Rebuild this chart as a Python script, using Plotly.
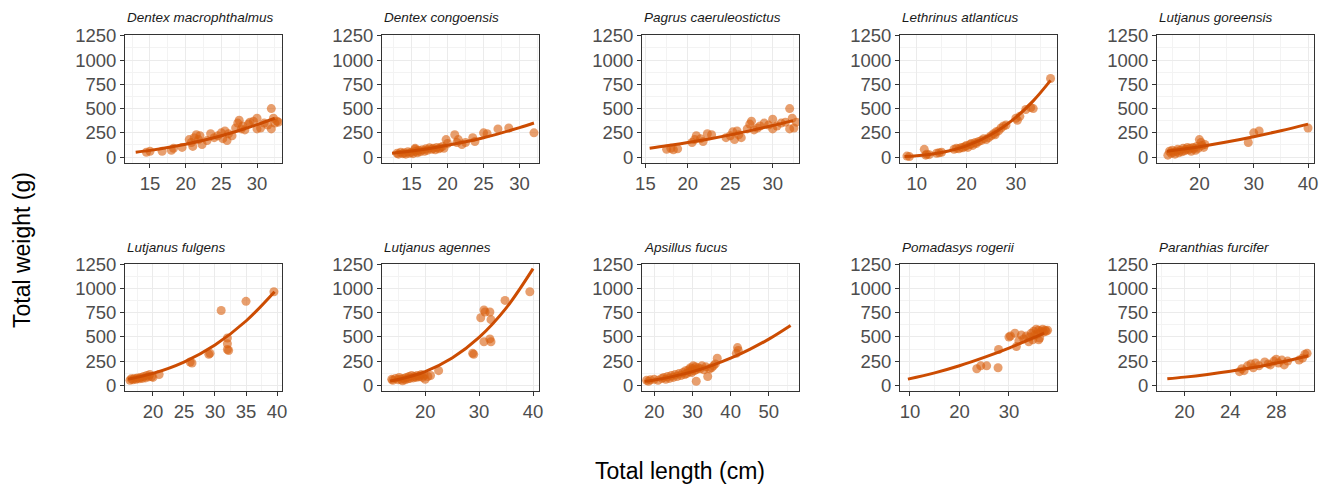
import plotly.graph_objects as go

W, H = 1329, 488

species = ["Dentex macrophthalmus", "Dentex congoensis", "Pagrus caeruleostictus",
           "Lethrinus atlanticus", "Lutjanus goreensis", "Lutjanus fulgens",
           "Lutjanus agennes", "Apsillus fucus", "Pomadasys rogerii", "Paranthias furcifer"]

# ---- Dentex macrophthalmus
dmac_len = [14.5, 15, 16.7, 18, 18.3, 19.5, 20.5, 20.8, 21, 21.2, 21.5, 21.8, 22, 22.3, 23, 23.5, 24, 24.5,
            25, 25.2, 25.5, 25.8, 26, 26.5, 27, 27.3, 27.5, 27.8, 28, 28.3, 28.8, 29, 29.5, 30, 30, 30.5,
            31, 31.5, 32, 32, 32.3, 32.5, 32.8, 33]
dmac_wt = [50, 60, 60, 70, 90, 100, 180, 150, 110, 200, 230, 180, 220, 130, 170, 240, 200, 220,
           250, 190, 270, 170, 240, 220, 300, 350, 380, 290, 320, 280, 340, 360, 370, 400, 290, 300,
           350, 330, 290, 500, 400, 350, 370, 360]
dmac_fit_len = [13, 15, 17.5, 20, 22.5, 25, 27.5, 30, 32.5]
dmac_fit_wt = [50, 69, 98, 133, 173, 220, 274, 334, 400]

# ---- Dentex congoensis
dcon_len = [13, 13.2, 13.5, 13.8, 14, 14.2, 14.5, 14.7, 15, 15.2, 15.5, 15.6, 15.8, 16, 16.2, 16.5, 16.8,
            17, 17.2, 17.5, 17.8, 18, 18.3, 18.5, 18.8, 19, 19.3, 19.5, 15.5, 19.8, 20, 21, 21.3, 21.5,
            22, 22.5, 23.5, 23.8, 25, 25.5, 27, 28.5, 32]
dcon_wt = [40, 30, 50, 35, 45, 30, 55, 40, 50, 35, 80, 60, 45, 70, 55, 75, 60,
           85, 70, 95, 80, 90, 75, 100, 85, 95, 110, 90, 90, 180, 140, 230, 150, 180,
           130, 150, 200, 160, 250, 240, 290, 300, 250]
dcon_fit_len = [12.3, 15, 17.5, 20, 22.5, 25, 27.5, 30, 32]
dcon_fit_wt = [40, 63, 89, 121, 158, 200, 249, 303, 351]

# ---- Pagrus caeruleostictus
pcae_len = [17.5, 18, 18.3, 18.8, 20.5, 20.8, 21, 21.5, 21.8, 22.3, 22.8, 24.5, 25, 25.3, 25.5, 25.8, 26,
            26.3, 27, 27.3, 27.5, 27.8, 28.2, 28.5, 29, 29.5, 30, 30, 30.5, 31, 31.5, 32, 32, 32.3, 32.5, 32.8]
pcae_wt = [80, 90, 75, 85, 150, 180, 220, 190, 160, 240, 230, 200, 220, 260, 180, 270, 230,
           200, 290, 340, 370, 280, 300, 320, 350, 330, 390, 290, 320, 350, 360, 500, 290, 400, 300, 360]
pcae_fit_len = [15.5, 17.5, 20, 22.5, 25, 27.5, 30, 32.4]
pcae_fit_wt = [92, 116, 150, 187, 229, 275, 325, 376]

# ---- Lethrinus atlanticus
latl_len = [8, 8.5, 11.5, 11.8, 12, 12.5, 14, 14.5, 15, 17.5, 18, 18.5, 19, 19.3, 19.8, 20, 20.3, 20.8,
            21, 21.3, 21.8, 22, 22.5, 23, 23.5, 24, 24.5, 25, 25.5, 25.8, 26, 26.5, 27, 27.5, 28, 30,
            30.3, 30.8, 32, 33, 33.5, 37]
latl_wt = [10, 5, 80, 20, 30, 25, 40, 45, 50, 80, 90, 85, 100, 95, 110, 120, 100, 130,
           140, 120, 150, 140, 160, 170, 190, 180, 200, 220, 240, 230, 260, 270, 300, 320, 330, 400,
           380, 420, 490, 510, 500, 810]
latl_fit_len = [7.5, 10, 15, 20, 25, 30, 33.5, 37]
latl_fit_wt = [5, 13, 47, 115, 232, 410, 579, 790]

# ---- Lutjanus goreensis
lgor_len = [14.2, 14.5, 14.8, 15, 15.2, 15.5, 15.8, 16, 16.2, 16.5, 16.8, 17, 17.3, 17.5, 17.8, 18, 18.3,
            18.5, 18.8, 19, 19.3, 19.5, 19.8, 20, 20.3, 20.5, 20.8, 21, 29, 30, 31, 40]
lgor_wt = [20, 60, 40, 70, 50, 30, 60, 80, 45, 70, 55, 90, 65, 80, 100, 75, 90,
           60, 100, 85, 70, 110, 90, 180, 150, 120, 100, 130, 150, 250, 270, 300]
lgor_fit_len = [14, 17, 20, 25, 30, 35, 40]
lgor_fit_wt = [59, 82, 107, 155, 210, 272, 340]

# ---- Lutjanus fulgens
lful_len = [16.3, 16.5, 16.8, 17, 17.3, 17.5, 17.8, 18, 18.3, 18.5, 18.8, 19, 19.3, 19.5, 19.8, 20, 21,
            26, 26.3, 29, 29.2, 31, 32, 32, 32, 32.2, 35, 39.5]
lful_wt = [50, 65, 55, 70, 60, 75, 65, 80, 70, 90, 75, 100, 85, 110, 90, 80, 110,
           240, 230, 320, 330, 775, 490, 430, 370, 360, 870, 970]
lful_fit_len = [16, 20, 25, 30, 35, 39.6]
lful_fit_wt = [62, 122, 240, 417, 666, 970]

# ---- Lutjanus agennes
lage_len = [13.8, 14, 14.5, 15, 15.2, 15.5, 15.8, 16, 16.3, 16.5, 16.8, 17, 17.2, 17.5, 17.8, 18, 18.3,
            18.5, 18.8, 19, 19.3, 19.5, 19.8, 20, 20.5, 21, 22.5, 28.8, 29, 30.3, 30.9, 31.1, 30.9, 32,
            32.2, 32, 32.2, 34.8, 39.4]
lage_wt = [60, 50, 70, 55, 80, 60, 45, 70, 55, 80, 65, 90, 70, 100, 75, 90, 80,
           100, 85, 95, 110, 80, 100, 60, 90, 100, 150, 330, 320, 700, 780, 760, 450, 760,
           680, 480, 450, 880, 970]
lage_fit_len = [13.5, 15, 20, 25, 30, 35, 40]
lage_fit_wt = [42, 58, 141, 282, 496, 800, 1210]

# ---- Apsillus fucus
afuc_len = [18, 18.5, 19, 20, 21, 22, 22.5, 23, 23.5, 24, 24.5, 25, 25.5, 26, 26.5, 27, 27.5, 28, 28.2,
            28.5, 29, 29.3, 29.5, 29.8, 30, 30.2, 30.5, 30.8, 31, 31, 31.5, 32, 32.5, 33, 33.5, 34, 34.5,
            35, 35.5, 36, 36.5, 41.5, 41.8, 42]
afuc_wt = [50, 40, 55, 60, 50, 70, 80, 60, 90, 70, 100, 80, 110, 90, 120, 100, 130, 110, 150,
           120, 160, 140, 180, 130, 170, 200, 150, 190, 40, 160, 180, 170, 200, 160, 190, 90, 170,
           180, 200, 220, 280, 330, 390, 360]
afuc_fit_len = [17.5, 20, 25, 30, 35, 40, 45, 50, 55.7]
afuc_fit_wt = [39, 53, 91, 140, 203, 280, 372, 478, 620]

# ---- Pomadasys rogerii
prog_len = [23.5, 24.3, 25.5, 27.8, 27.9, 30, 30.3, 31.2, 31.5, 32, 32.5, 33, 33.5, 34, 34.2, 34.5, 34.8,
            35, 35.2, 35.5, 35.8, 36, 36.2, 36.5, 36.8, 37, 37.3, 37.5, 37.8, 36]
prog_wt = [170, 200, 200, 180, 370, 500, 510, 540, 400, 460, 520, 480, 510, 450, 500, 540, 470,
           560, 520, 580, 530, 570, 490, 560, 580, 550, 570, 560, 570, 470]
prog_fit_len = [9.6, 15, 20, 25, 30, 35, 37.1]
prog_fit_wt = [62, 127, 201, 288, 385, 493, 541]

# ---- Paranthias furcifer
pfur_len = [24.8, 25, 25.2, 25.5, 25.8, 26, 26.2, 26.5, 27, 27.3, 27.5, 27.8, 28, 28.2, 28.5, 28.7, 29,
            30, 30.3, 30.5, 30.7]
pfur_wt = [140, 170, 150, 200, 220, 180, 230, 200, 240, 220, 210, 250, 270, 230, 260, 210, 250,
           260, 280, 320, 330]
pfur_fit_len = [18.5, 20, 22, 24, 26, 28, 30, 30.8]
pfur_fit_wt = [66, 83, 111, 144, 183, 229, 281, 305]

y_ticks = [0, 250, 500, 750, 1000, 1250]

panels = [
    (dmac_len, dmac_wt, dmac_fit_len, dmac_fit_wt),
    (dcon_len, dcon_wt, dcon_fit_len, dcon_fit_wt),
    (pcae_len, pcae_wt, pcae_fit_len, pcae_fit_wt),
    (latl_len, latl_wt, latl_fit_len, latl_fit_wt),
    (lgor_len, lgor_wt, lgor_fit_len, lgor_fit_wt),
    (lful_len, lful_wt, lful_fit_len, lful_fit_wt),
    (lage_len, lage_wt, lage_fit_len, lage_fit_wt),
    (afuc_len, afuc_wt, afuc_fit_len, afuc_fit_wt),
    (prog_len, prog_wt, prog_fit_len, prog_fit_wt),
    (pfur_len, pfur_wt, pfur_fit_len, pfur_fit_wt),
]

# layout / style (pixels)
col_left = [125, 382, 642, 900, 1157]
panel_w = 157
row_top = [35, 264]
row_bot = [163, 391]
x_ranges = [[11.5, 33.5], [10.9, 32.7], [14.6, 33.1], [6.6, 38.3], [12.2, 41.1],
            [15.5, 40.8], [12.0, 41.1], [16.8, 57.9], [8.0, 39.7], [17.6, 31.3]]
x_dticks = [5, 5, 5, 10, 10, 5, 10, 10, 10, 4]
y_range = [-61, 1258]

PT_COL = "#D95F0E"
LN_COL = "#CC4C02"
FONT = "Liberation Sans, Arial, sans-serif"
TICK_FS = 18.5

fig = go.Figure()
layout = dict(
    width=W, height=H, margin=dict(l=0, r=0, t=0, b=0, autoexpand=False),
    paper_bgcolor="white", plot_bgcolor="white", showlegend=False,
    font=dict(family=FONT, color="#4D4D4D"),
)
annotations = []

for i, (lx, ly, fx, fy) in enumerate(panels):
    r, c = divmod(i, 5)
    n = "" if i == 0 else str(i + 1)
    xa, ya = "x" + n, "y" + n
    fig.add_trace(go.Scatter(x=lx, y=ly, mode="markers", xaxis=xa, yaxis=ya,
                             marker=dict(size=9, color=PT_COL, opacity=0.6, line=dict(width=0)),
                             hoverinfo="x+y"))
    fig.add_trace(go.Scatter(x=fx, y=fy, mode="lines", xaxis=xa, yaxis=ya,
                             line=dict(color=LN_COL, width=3, shape="spline")))
    x0 = col_left[c] / W
    x1 = (col_left[c] + panel_w) / W
    y0 = 1 - row_bot[r] / H
    y1 = 1 - row_top[r] / H
    d = x_dticks[i]
    layout["xaxis" + n] = dict(
        domain=[x0, x1], anchor=ya, range=x_ranges[i], tick0=0, dtick=d,
        showgrid=True, gridcolor="#EBEBEB", gridwidth=1,
        minor=dict(dtick=d / 2, tick0=0, showgrid=True, gridcolor="#F3F3F3", gridwidth=1),
        showline=True, mirror=True, linecolor="#333333", linewidth=1,
        ticks="outside", ticklen=4, tickcolor="#333333", tickwidth=1,
        tickfont=dict(size=TICK_FS, color="#4D4D4D", family=FONT), zeroline=False,
    )
    layout["yaxis" + n] = dict(
        domain=[y0, y1], anchor=xa, range=y_range, tickvals=y_ticks,
        showgrid=True, gridcolor="#EBEBEB", gridwidth=1,
        minor=dict(dtick=125, tick0=0, showgrid=True, gridcolor="#F3F3F3", gridwidth=1),
        showline=True, mirror=True, linecolor="#333333", linewidth=1,
        ticks="outside", ticklen=4, tickcolor="#333333", tickwidth=1,
        tickfont=dict(size=TICK_FS, color="#4D4D4D", family=FONT), zeroline=False,
    )
    annotations.append(dict(
        text="<i>" + species[i] + "</i>", xref="paper", yref="paper",
        x=x0, y=1 - (row_top[r] - 17) / H, xanchor="left", yanchor="middle",
        showarrow=False, font=dict(size=13.5, color="#1A1A1A", family=FONT)))

annotations.append(dict(text="Total length (cm)", xref="paper", yref="paper",
                        x=680 / W, y=1 - 471 / H, xanchor="center", yanchor="middle",
                        showarrow=False, font=dict(size=23, color="black", family=FONT)))
annotations.append(dict(text="Total weight (g)", xref="paper", yref="paper",
                        x=22 / W, y=1 - 250 / H, xanchor="center", yanchor="middle",
                        textangle=-90, showarrow=False,
                        font=dict(size=23, color="black", family=FONT)))
layout["annotations"] = annotations
fig.update_layout(**layout)
fig.write_html("out.html", config={"displayModeBar": False},
               post_script="document.body.style.margin='0';document.body.style.padding='0';")
